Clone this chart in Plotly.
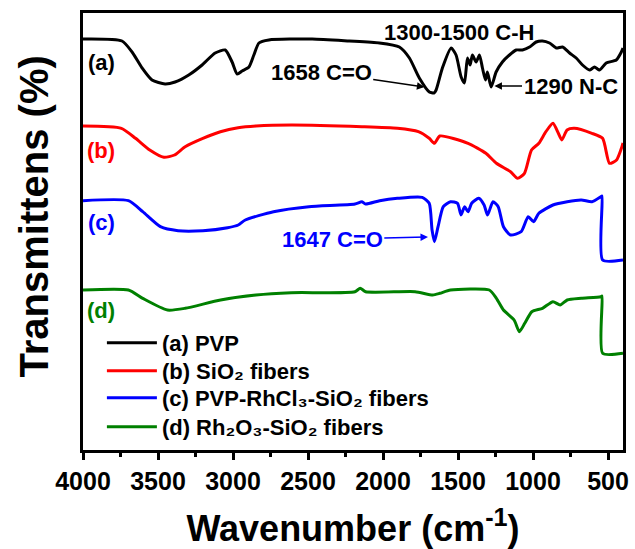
import plotly.graph_objects as go

# ---- data (wavenumber cm-1, transmittance in arbitrary offset units) ----
wn_a = [4000, 3740, 3673, 3606, 3540, 3453, 3386, 3295, 3206, 3119, 3052, 3006, 2972, 2939, 2894, 2861,
        2827, 2761, 2472, 2225, 2024, 1891, 1824, 1758, 1691, 1660, 1646, 1604, 1546, 1513, 1479, 1457,
        1437, 1419, 1404, 1379, 1357, 1337, 1317, 1304, 1279, 1246, 1204, 1157, 1112, 1070, 1023, 979,
        937, 890, 845, 803, 756, 712, 670, 623, 590, 556, 512, 445, 411, 400]
t_a = [411, 409, 398, 382, 370, 366, 368, 375, 385, 397, 400, 388, 376, 379, 383, 395,
       407, 410, 411, 409, 407, 403, 392, 372, 358, 357, 360, 382, 402, 395, 373, 367,
       392, 385, 395, 388, 395, 382, 370, 378, 363, 378, 388, 395, 400, 400, 403, 408,
       409, 407, 402, 403, 397, 392, 385, 380, 383, 380, 387, 390, 398, 402]

wn_b = [4000, 3744, 3650, 3555, 3461, 3390, 3319, 3201, 3084, 2966, 2847, 2612, 2140, 1904, 1764,
        1692, 1657, 1621, 1433, 1314, 1244, 1150, 1103, 1057, 1010, 961, 914, 867, 831, 808, 773,
        725, 607, 536, 490, 443, 407, 400]
t_b = [324, 321.7, 311.7, 300, 292.7, 295, 303.3, 311.7, 318.3, 322.3, 324, 325, 323.3, 321.7, 318.3,
       311.7, 306.7, 314, 306.7, 296.7, 286.7, 278.3, 271.7, 276.7, 300, 306.7, 318.3, 326.7, 316.7, 310, 320,
       321.7, 316.7, 311.7, 286.7, 290, 303.3, 307]

wn_c = [4000, 3697, 3602, 3484, 3366, 3201, 3036, 2965, 2918, 2730, 2494, 2187, 2140, 2116, 2022,
        1904, 1739, 1692, 1673, 1657, 1633, 1598, 1550, 1503, 1480, 1456, 1433, 1409, 1362, 1326,
        1303, 1267, 1232, 1197, 1150, 1079, 1032, 996, 961, 867, 772, 678, 607, 548, 540, 536, 400]
t_c = [249.3, 249.3, 238.3, 223.3, 219.3, 219.3, 222.3, 225, 230, 238.3, 243.3, 246, 248.3, 246, 249.3,
       251.7, 252.7, 246.7, 220, 208.3, 223.3, 243.3, 248.3, 246.7, 235, 243.3, 238.3, 246.7, 251.7, 245,
       235, 248.3, 243.3, 223.3, 215, 218.3, 233.3, 228.3, 236.7, 245, 248.3, 250, 248.3, 253.3, 254, 190, 190]

wn_d = [4000, 3697, 3602, 3437, 3319, 3083, 2847, 2612, 2187, 2152, 2116, 1786, 1668, 1621, 1550,
        1291, 1244, 1197, 1126, 1091, 1055, 1008, 937, 867, 819, 772, 678, 548, 540, 536, 400]
t_d = [160, 160, 151.7, 140, 141.7, 150, 155, 157.3, 158.3, 161.7, 158.3, 158.3, 155, 156.7, 160,
       160, 151.7, 140, 130, 118.3, 126.7, 138.3, 141.7, 148.3, 145, 150, 151.7, 153.3, 154, 96.7, 96.7]

names = ["(a) PVP", "(b) SiO₂ fibers",
         "(c) PVP-RhCl₃-SiO₂ fibers",
         "(d) Rh₂O₃-SiO₂ fibers"]
colors = ["#000000", "#ff0000", "#0000ff", "#008000"]
curve_labels = ["(a)", "(b)", "(c)", "(d)"]
label_y = [388, 300, 228, 140]

x_tickvals = [4000, 3500, 3000, 2500, 2000, 1500, 1000, 500]

FONT = "Liberation Sans, Arial, sans-serif"
legend_ids = ["legend", "legend2", "legend3", "legend4"]
legend_rows = [0.245, 0.181, 0.119, 0.053]

fig = go.Figure()
for wn, t, nm, col, lid in zip([wn_a, wn_b, wn_c, wn_d], [t_a, t_b, t_c, t_d], names, colors, legend_ids):
    fig.add_trace(go.Scatter(x=wn, y=t, mode="lines", name=nm, legend=lid,
                             line=dict(color=col, width=3, shape="spline", smoothing=0.6)))

for lab, ly, col in zip(curve_labels, label_y, colors):
    fig.add_annotation(x=3880, y=ly, text=f"<b>{lab}</b>", showarrow=False,
                       font=dict(size=22, color=col, family=FONT))

fig.add_annotation(x=1491, y=418, text="<b>1300-1500 C-H</b>", showarrow=False,
                   font=dict(size=22, color="black", family=FONT))
fig.add_annotation(x=1724, y=363, ax=2412, ay=378, axref="x", ayref="y",
                   text="<b>1658 C=O</b>", showarrow=True, arrowhead=2, arrowsize=1,
                   arrowwidth=1.5, arrowcolor="black",
                   font=dict(size=22, color="black", family=FONT))
fig.add_annotation(x=1257, y=364, ax=750, ay=364, axref="x", ayref="y",
                   text="<b>1290 N-C</b>", showarrow=True, arrowhead=2, arrowsize=1,
                   arrowwidth=1.5, arrowcolor="black",
                   font=dict(size=22, color="black", family=FONT))
fig.add_annotation(x=1700, y=213, ax=2338, ay=211, axref="x", ayref="y",
                   text="<b>1647 C=O</b>", showarrow=True, arrowhead=2, arrowsize=1,
                   arrowwidth=1.5, arrowcolor="#0000ff",
                   font=dict(size=22, color="#0000ff", family=FONT))

# y-axis title (placed as a rotated annotation to match the reference position)
fig.add_annotation(xref="paper", yref="paper", x=-0.091, y=0.534, xanchor="center", yanchor="middle",
                   text="<b>Transmittens (%)</b>", textangle=-90, showarrow=False,
                   font=dict(size=40, family=FONT, color="black"))

legend_common = dict(xanchor="left", yanchor="middle", bgcolor="rgba(0,0,0,0)", borderwidth=0,
                     font=dict(size=22, family=FONT, color="black", weight="bold"),
                     itemwidth=50)

fig.update_layout(
    width=635, height=549,
    margin=dict(l=83, r=12, t=13, b=99, autoexpand=False),
    paper_bgcolor="white", plot_bgcolor="white",
    font=dict(family=FONT, color="black"),
    showlegend=True,
    legend=dict(x=0.035, y=legend_rows[0], **legend_common),
    legend2=dict(x=0.035, y=legend_rows[1], **legend_common),
    legend3=dict(x=0.035, y=legend_rows[2], **legend_common),
    legend4=dict(x=0.035, y=legend_rows[3], **legend_common),
)
fig.update_xaxes(
    range=[4000, 400], tickmode="array", tickvals=x_tickvals,
    ticks="outside", ticklen=7, tickwidth=3, tickcolor="black",
    minor=dict(tickmode="linear", tick0=250, dtick=500, ticks="outside", ticklen=4,
               tickwidth=3, tickcolor="black"),
    showline=True, linewidth=3, linecolor="black", mirror=True,
    showgrid=False, zeroline=False, automargin=False,
    tickfont=dict(size=25, family=FONT, color="black", weight="bold"),
    title=dict(text="<b>Wavenumber (cm<sup>-1</sup>)</b>", standoff=24,
               font=dict(size=36, family=FONT, color="black")),
)
fig.update_yaxes(
    range=[0, 437], showticklabels=False, ticks="",
    showline=True, linewidth=3, linecolor="black", mirror=True,
    showgrid=False, zeroline=False, automargin=False,
)

fig.write_html("out.html", config={"displayModeBar": False},
               post_script="document.body.style.margin='0';")
